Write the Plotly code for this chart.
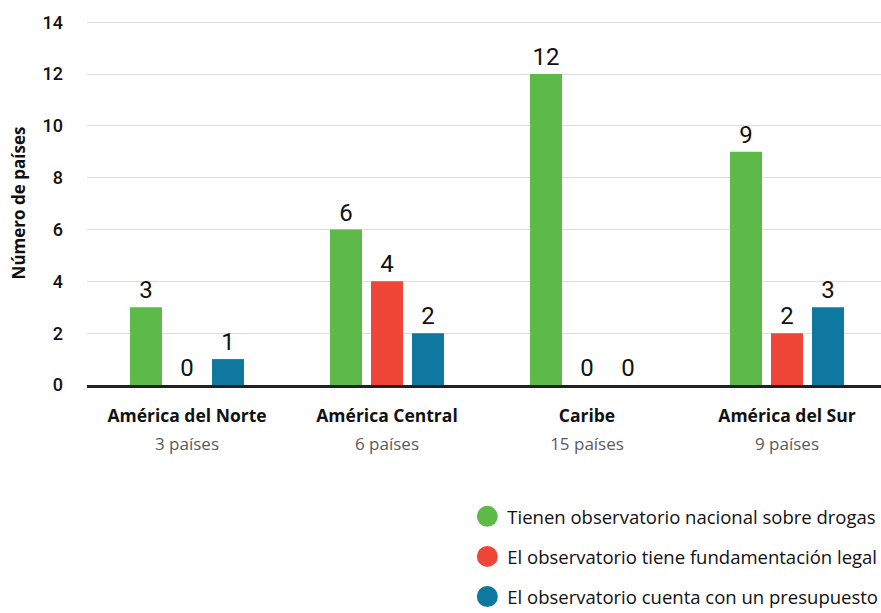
import plotly.graph_objects as go

regions = ["América del Norte", "América Central", "Caribe", "América del Sur"]
country_counts = [3, 6, 15, 9]
series_names = [
    "Tienen observatorio nacional sobre drogas",
    "El observatorio tiene fundamentación legal",
    "El observatorio cuenta con un presupuesto",
]
observatorio = [3, 6, 12, 9]
fundamentacion = [0, 4, 0, 2]
presupuesto = [1, 2, 0, 3]
colors = ["#5DBA48", "#EF4638", "#0E789E"]
y_ticks = [0, 2, 4, 6, 8, 10, 12, 14]

tick_text = [
    f"<span style='font-size:17.5px'><b>{r}</b></span><br>"
    f"<span style='font-size:17px;color:#5a5a5a'>{n} países</span>"
    for r, n in zip(regions, country_counts)
]

fig = go.Figure()
for i, (name, vals, col) in enumerate(zip(series_names, [observatorio, fundamentacion, presupuesto], colors)):
    fig.add_trace(go.Bar(
        x=regions, y=vals, name=name, marker=dict(color=col, line=dict(width=0)),
        text=vals, texttemplate="%{y}", textposition="outside", cliponaxis=False,
        textfont=dict(family="Roboto", size=24, color="#111111"),
        showlegend=False,
    ))
    fig.add_trace(go.Scatter(
        x=[None], y=[None], mode="markers", name=name, legendgroup=f"g{i}",
        marker=dict(color=col, size=24, symbol="circle", line=dict(color=col, width=5)),
    ))

fig.update_layout(
    width=881, height=613,
    margin=dict(l=87, r=0, t=21, b=228, autoexpand=False),
    paper_bgcolor="white", plot_bgcolor="white",
    barmode="group", bargap=0.385, bargroupgap=0.22,
    showlegend=True,
    legend=dict(
        x=0.479, xanchor="left", y=-0.31, yanchor="top",
        font=dict(family="Open Sans", size=18.5, color="#111111"),
        tracegroupgap=13, bgcolor="rgba(0,0,0,0)",
    ),
    xaxis=dict(
        tickmode="array", tickvals=regions, ticktext=tick_text,
        range=[-0.5, 3.47], showline=True, linecolor="#222222", linewidth=3,
        ticks="", tickfont=dict(family="Open Sans", size=21, color="#111111"),
        ticklabelstandoff=9, showgrid=False, fixedrange=True, automargin=False,
    ),
    yaxis=dict(
        range=[0, 14.05], tickvals=y_ticks, showgrid=True, gridcolor="#DDDDDD",
        gridwidth=1, zeroline=False, ticks="", ticklabelstandoff=23, automargin=False,
        tickfont=dict(family="Roboto", size=18, color="#111111", weight=500),
        title=dict(text="<b>Número de países</b>", standoff=12,
                   font=dict(family="Open Sans", size=17, color="#111111")),
    ),
)

fig.write_html("out.html", config={"displayModeBar": False},
               post_script="document.body.style.margin='0';")
